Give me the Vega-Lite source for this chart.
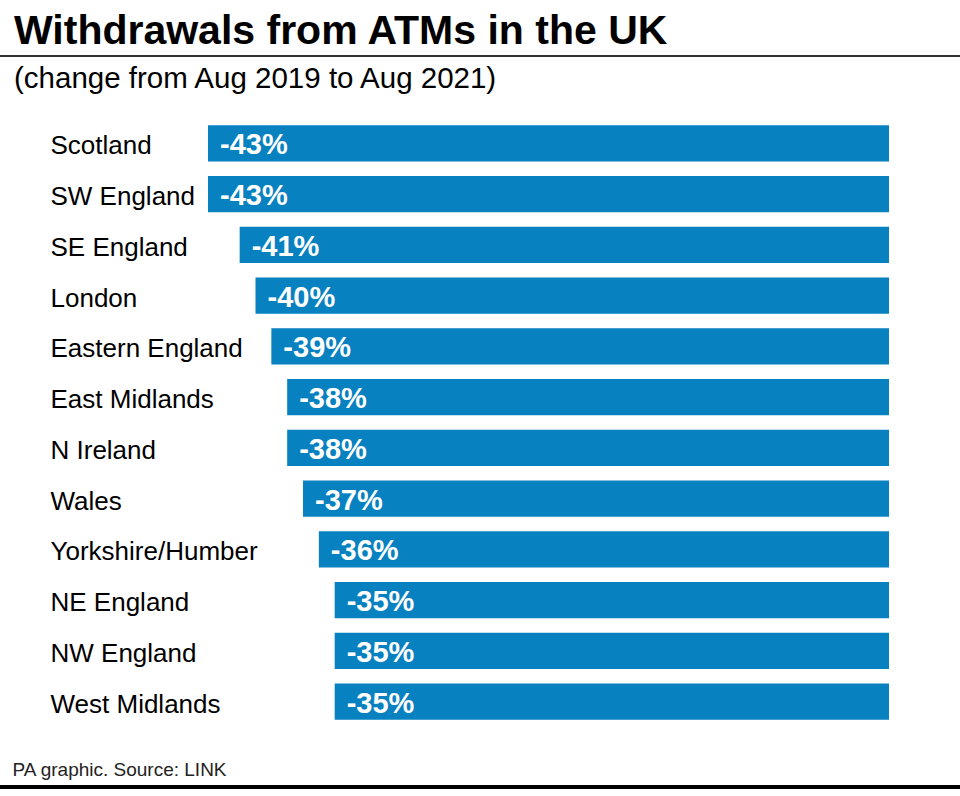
{
  "$schema": "https://vega.github.io/schema/vega-lite/v6.json",
  "autosize": {"type": "none"},
  "width": 681,
  "height": 609,
  "padding": {"left": 208, "top": 118, "right": 71, "bottom": 69},
  "background": "white",
  "title": {
    "text": "Withdrawals from ATMs in the UK",
    "subtitle": "(change from Aug 2019 to Aug 2021)",
    "anchor": "start",
    "frame": "group",
    "dx": -194,
    "dy": 63,
    "font": "Liberation Sans",
    "fontSize": 41,
    "fontWeight": "bold",
    "color": "#000000",
    "subtitleFont": "Liberation Sans",
    "subtitleFontSize": 29.5,
    "subtitleColor": "#000000",
    "subtitlePadding": 12,
    "offset": 24
  },
  "data": {
    "values": [
      {"region": "Scotland", "change": -0.43},
      {"region": "SW England", "change": -0.43},
      {"region": "SE England", "change": -0.41},
      {"region": "London", "change": -0.40},
      {"region": "Eastern England", "change": -0.39},
      {"region": "East Midlands", "change": -0.38},
      {"region": "N Ireland", "change": -0.38},
      {"region": "Wales", "change": -0.37},
      {"region": "Yorkshire/Humber", "change": -0.36},
      {"region": "NE England", "change": -0.35},
      {"region": "NW England", "change": -0.35},
      {"region": "West Midlands", "change": -0.35}
    ]
  },
  "resolve": {"scale": {"y": "independent"}, "axis": {"y": "independent"}},
  "layer": [
    {
      "mark": {"type": "bar", "color": "#0881c0"},
      "encoding": {
        "y": {
          "field": "region", "type": "nominal", "sort": null,
          "scale": {"paddingInner": 0.29, "paddingOuter": 0.145},
          "axis": {
            "title": null, "domain": false, "ticks": false, "tickSize": 0,
            "labelAlign": "left", "labelPadding": 158, "labelBaseline": "middle",
            "labelOffset": 3,
            "labelFont": "Liberation Sans", "labelFontSize": 26, "labelColor": "#000000",
            "labelLimit": 300
          }
        },
        "x": {
          "field": "change", "type": "quantitative",
          "scale": {"domain": [-0.43, 0], "nice": false, "zero": false},
          "axis": {
            "title": "PA graphic. Source: LINK",
            "labels": false, "ticks": false, "domain": false, "grid": false,
            "titleAlign": "left", "titleAnchor": "start", "titleBaseline": "alphabetic",
            "titleX": -196, "titleY": 48,
            "titleFont": "Liberation Sans", "titleFontSize": 19, "titleFontWeight": "normal",
            "titleColor": "#222222"
          }
        },
        "x2": {"datum": 0}
      }
    },
    {
      "mark": {"type": "text", "align": "left", "baseline": "middle", "dx": 12, "dy": 2,
               "font": "Liberation Sans", "fontSize": 29, "fontWeight": "bold", "color": "white"},
      "encoding": {
        "y": {"field": "region", "type": "nominal", "sort": null,
              "scale": {"paddingInner": 0.29, "paddingOuter": 0.145}, "axis": null},
        "x": {"field": "change", "type": "quantitative"},
        "text": {"field": "change", "type": "quantitative", "format": ".0%"}
      }
    },
    {
      "mark": {"type": "rule", "color": "#333333", "strokeWidth": 2},
      "encoding": {
        "x": {"datum": -0.5613, "type": "quantitative"},
        "x2": {"datum": 0.0449},
        "y": {"datum": -62, "type": "quantitative", "scale": {"domain": [609, 0], "nice": false, "zero": false}, "axis": null}
      }
    },
    {
      "mark": {"type": "rule", "color": "#000000", "strokeWidth": 3},
      "encoding": {
        "x": {"datum": -0.5613, "type": "quantitative"},
        "x2": {"datum": 0.0449},
        "y": {"datum": 669, "type": "quantitative", "scale": {"domain": [609, 0], "nice": false, "zero": false}, "axis": null}
      }
    }
  ],
  "config": {
    "view": {"stroke": null},
    "locale": {"number": {"decimal": ".", "thousands": ",", "grouping": [3], "currency": ["£", ""], "minus": "-"}}
  }
}
